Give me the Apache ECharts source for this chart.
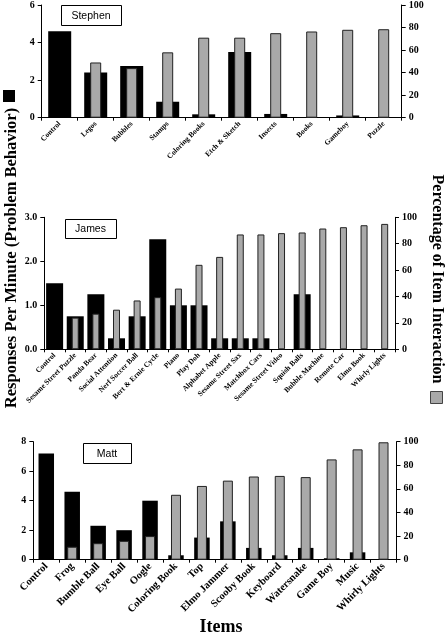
<!DOCTYPE html>
<html>
<head>
<meta charset="utf-8">
<script src="https://cdn.jsdelivr.net/npm/echarts@6/dist/echarts.min.js"></script>
<style>
html,body{margin:0;padding:0;background:#fff;}
#chart{width:446px;height:635px;}
</style>
</head>
<body>
<div id="chart"></div>
<script>
// ---- Data ----
const stephenItems = ['Control','Legos','Bubbles','Stamps','Coloring Books','Etch & Sketch','Insects','Books','Gameboy','Puzzle'];
const stephenRate  = [4.6, 2.4, 2.75, 0.85, 0.18, 3.5, 0.2, 0, 0.12, 0];
const stephenPct   = [null, 49, 44, 58, 71, 71, 75, 76.5, 78, 78.5];

const jamesItems = ['Control','Sesame Street Puzzle','Panda Bear','Social Attention','Nerf Soccer Ball','Bert & Ernie Cycle','Piano','Play Doh','Alphabet Apple','Sesame Street Sax','Matchbox Cars','Sesame Street Video','Squish Balls','Bubble Machine','Remote Car','Elmo Book','Whirly Lights'];
const jamesRate  = [1.5, 0.75, 1.25, 0.25, 0.75, 2.5, 1.0, 1.0, 0.25, 0.25, 0.25, 0, 1.25, 0, 0, 0, 0];
const jamesPct   = [null, 24, 27, 30, 37, 39.5, 46, 64, 70, 87, 87, 88, 88.5, 91.5, 92.5, 94, 95];

const mattItems = ['Control','Frog','Bumble Ball','Eye Ball','Oogle','Coloring Book','Top','Elmo Jammer','Scooby Book','Keyboard','Watersnake','Game Boy','Music','Whirly Lights'];
const mattRate  = [7.2, 4.6, 2.3, 2.0, 4.0, 0.3, 1.5, 2.6, 0.8, 0.3, 0.8, 0.1, 0.5, 0];
const mattPct   = [null, 11, 14, 16, 20, 55, 62.5, 67, 70.5, 71, 70, 85, 93.5, 99.5];

const pctTicks = [0, 20, 40, 60, 80, 100];

// ---- Layout ----
const SERIF = '"Liberation Serif","Times New Roman",serif';
const panels = [
  {name:'Stephen', items:stephenItems, rate:stephenRate, pct:stephenPct,
   grid:{left:41.7, right:44.3, top:4.7, height:113}, leftMax:6, leftInt:2, dec:0,
   labelSize:7.5, blackW:23, grayW:11, box:[61,5,60,20]},
  {name:'James', items:jamesItems, rate:jamesRate, pct:jamesPct,
   grid:{left:44.3, right:51, top:217.3, height:132}, leftMax:3, leftInt:1, dec:1,
   labelSize:7.5, blackW:17, grayW:7, box:[65,219,51,19]},
  {name:'Matt', items:mattItems, rate:mattRate, pct:mattPct,
   grid:{left:33.3, right:49.5, top:441.7, height:118}, leftMax:8, leftInt:2, dec:0,
   labelSize:10.5, blackW:15.5, grayW:10, box:[83,443,48,20]}
];

const grid = [], xAxis = [], yAxis = [], series = [], graphic = [];
const axisLine = {show:true, lineStyle:{color:'#000', width:1}};
const tickLabel = {color:'#000', fontFamily:SERIF, fontWeight:'bold', fontSize:10};

panels.forEach((p, i) => {
  grid.push(Object.assign({containLabel:false}, p.grid));
  // visible category axis (black bars)
  xAxis.push({type:'category', gridIndex:i, data:p.items, axisLine:axisLine,
    axisTick:{show:true, length:3, lineStyle:{color:'#000'}},
    axisLabel:{interval:0, rotate:45, margin:5, color:'#000', fontFamily:SERIF,
               fontWeight:'bold', fontSize:p.labelSize},
    splitLine:{show:false}});
  // hidden category axis (gray bars)
  xAxis.push({type:'category', gridIndex:i, data:p.items, show:false});
  yAxis.push({type:'value', gridIndex:i, position:'left', min:0, max:p.leftMax, interval:p.leftInt,
    axisLine:axisLine, axisTick:{show:true, length:4, lineStyle:{color:'#000'}},
    axisLabel:Object.assign({margin:7, formatter:v => v.toFixed(p.dec)}, tickLabel),
    splitLine:{show:false}});
  yAxis.push({type:'value', gridIndex:i, position:'right', min:0, max:pctTicks[pctTicks.length-1], interval:20,
    axisLine:axisLine, axisTick:{show:true, length:4, lineStyle:{color:'#000'}},
    axisLabel:Object.assign({margin:7}, tickLabel),
    splitLine:{show:false}});
  series.push({type:'bar', name:'Responses Per Minute', xAxisIndex:2*i, yAxisIndex:2*i,
    data:p.rate, barWidth:p.blackW, itemStyle:{color:'#000'}, z:2, silent:true});
  series.push({type:'bar', name:'Percentage of Item Interaction', xAxisIndex:2*i+1, yAxisIndex:2*i+1,
    data:p.pct, barWidth:p.grayW, itemStyle:{color:'#a9a9a9', borderColor:'#222', borderWidth:1}, z:3, silent:true});
  const b = p.box;
  graphic.push({type:'rect', shape:{x:b[0]+0.5, y:b[1]+0.5, width:b[2], height:b[3]},
    style:{fill:'#fff', stroke:'#000', lineWidth:1}, z:10});
  graphic.push({type:'text', x:b[0]+b[2]/2, y:b[1]+b[3]/2+1,
    style:{text:p.name, fill:'#000', font:'10.5px "Liberation Sans",Arial,sans-serif',
           textAlign:'center', textVerticalAlign:'middle'}, z:11});
});

// axis titles and legend keys
graphic.push({type:'text', x:12, y:258, rotation:Math.PI/2,
  style:{text:'Responses Per Minute (Problem Behavior)', fill:'#000',
         font:'bold 16.5px ' + SERIF, textAlign:'center', textVerticalAlign:'middle'}});
graphic.push({type:'rect', shape:{x:3, y:90, width:12, height:12}, style:{fill:'#000'}});
graphic.push({type:'text', x:437, y:279, rotation:-Math.PI/2,
  style:{text:'Percentage of Item Interaction', fill:'#000',
         font:'bold 16px ' + SERIF, textAlign:'center', textVerticalAlign:'middle'}});
graphic.push({type:'rect', shape:{x:430.5, y:391.5, width:12, height:12},
  style:{fill:'#a9a9a9', stroke:'#444', lineWidth:1}});
graphic.push({type:'text', x:221, y:627,
  style:{text:'Items', fill:'#000', font:'bold 18px ' + SERIF,
         textAlign:'center', textVerticalAlign:'middle'}});

const chart = echarts.init(document.getElementById('chart'), null, {renderer:'canvas'});
chart.setOption({animation:false, backgroundColor:'#fff', grid, xAxis, yAxis, series, graphic});
</script>
</body>
</html>
